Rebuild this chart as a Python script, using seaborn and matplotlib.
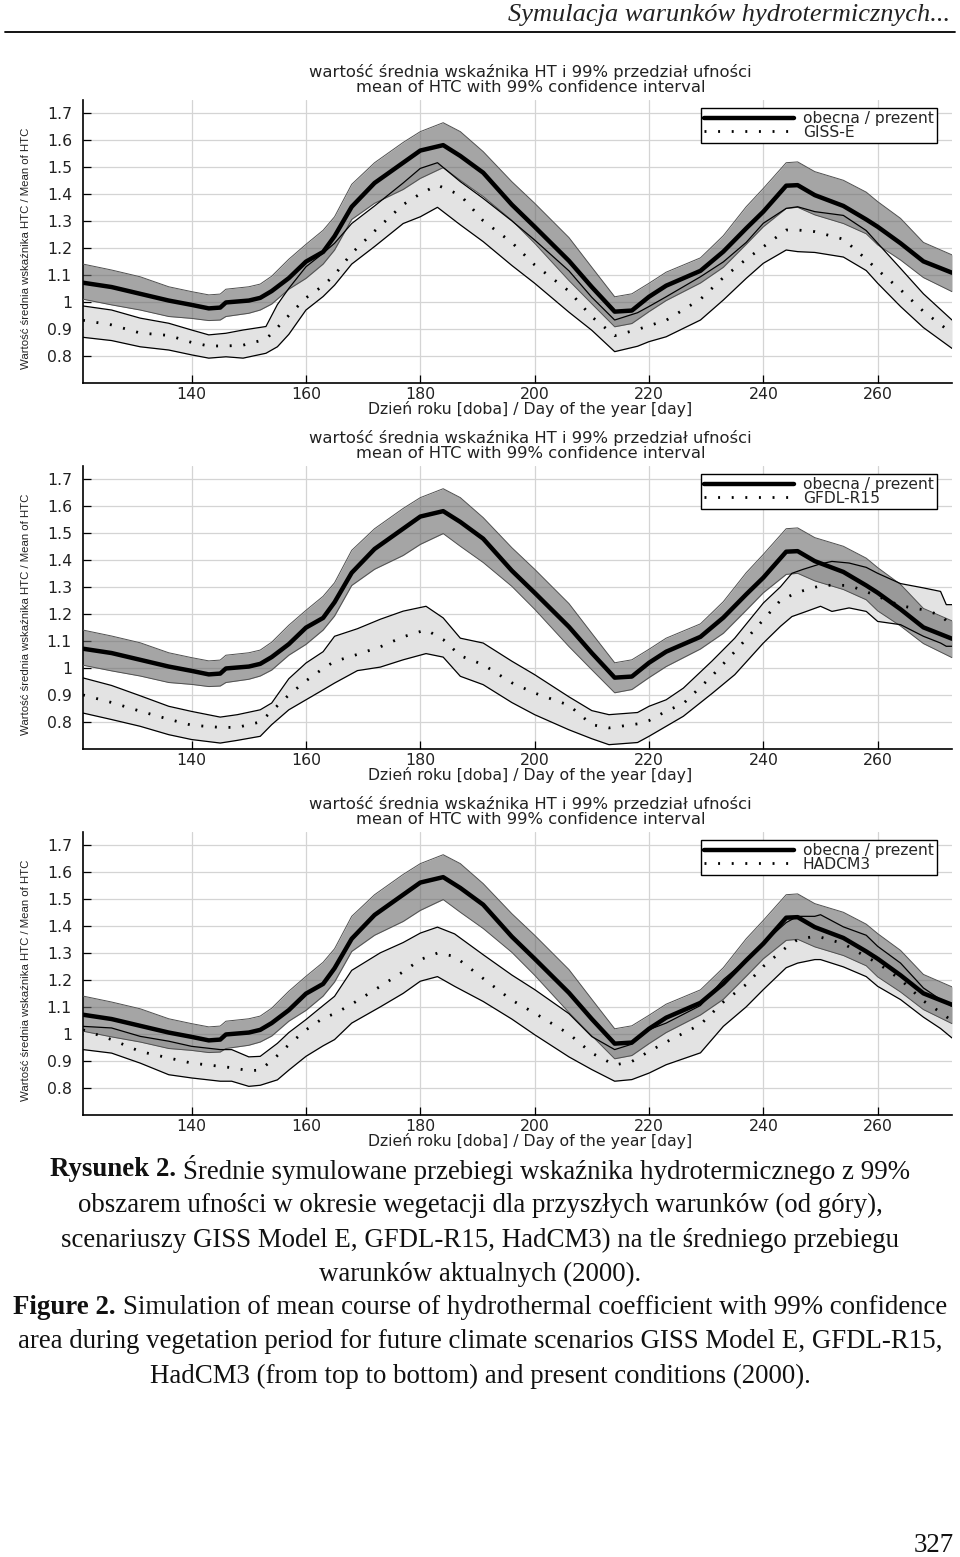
import pandas as pd
import matplotlib
matplotlib.use('Agg')
import matplotlib.pyplot as plt
import seaborn as sns
from matplotlib.lines import Line2D

sns.set_style('whitegrid')
plt.rcParams['font.family'] = ['DejaVu Sans']

# --- present conditions (2000), identical on all three panels ---
present_day = [121, 126, 131, 136, 140, 143, 145, 146, 150, 152, 154, 157, 160, 163, 165, 168, 172, 177, 180, 184,
               187, 191, 196, 200, 206, 210, 214, 217, 220, 223, 229, 233, 237, 240, 244, 246, 249, 254, 258, 260,
               264, 268, 273]
present_mean = [1.071, 1.055, 1.030, 1.005, 0.989, 0.976, 0.979, 0.998, 1.005, 1.015, 1.040, 1.088, 1.149, 1.185,
                1.243, 1.352, 1.440, 1.515, 1.560, 1.580, 1.540, 1.478, 1.360, 1.278, 1.152, 1.055, 0.964, 0.968,
                1.019, 1.060, 1.115, 1.186, 1.272, 1.334, 1.430, 1.432, 1.395, 1.355, 1.305, 1.278, 1.217, 1.150,
                1.108]
present_hi = [1.140, 1.118, 1.093, 1.056, 1.038, 1.026, 1.029, 1.047, 1.056, 1.066, 1.095, 1.158, 1.213, 1.265,
              1.315, 1.435, 1.515, 1.590, 1.630, 1.663, 1.630, 1.556, 1.445, 1.365, 1.238, 1.128, 1.019, 1.030,
              1.069, 1.110, 1.163, 1.245, 1.352, 1.420, 1.515, 1.518, 1.482, 1.450, 1.406, 1.371, 1.309, 1.220,
              1.174]
present_lo = [1.010, 0.989, 0.970, 0.946, 0.939, 0.931, 0.933, 0.946, 0.958, 0.970, 0.992, 1.047, 1.087, 1.140,
              1.192, 1.305, 1.365, 1.416, 1.457, 1.497, 1.450, 1.390, 1.302, 1.217, 1.079, 0.993, 0.908, 0.920,
              0.964, 1.005, 1.070, 1.128, 1.213, 1.278, 1.346, 1.350, 1.322, 1.290, 1.252, 1.211, 1.155, 1.090,
              1.038]

# --- GISS Model E ---
giss_day = [121, 126, 131, 136, 140, 143, 146, 149, 153, 155, 157, 160, 163, 165, 168, 172, 177, 180, 183, 187,
            191, 196, 200, 206, 210, 214, 218, 220, 223, 229, 233, 237, 240, 244, 246, 249, 254, 258, 260, 264,
            268, 273]
giss_mean = [0.932, 0.915, 0.885, 0.876, 0.850, 0.837, 0.837, 0.840, 0.862, 0.905, 0.950, 1.015, 1.060, 1.100,
             1.180, 1.262, 1.360, 1.400, 1.432, 1.395, 1.300, 1.220, 1.137, 1.040, 0.945, 0.875, 0.898, 0.912,
             0.932, 1.010, 1.090, 1.158, 1.204, 1.266, 1.266, 1.260, 1.232, 1.158, 1.118, 1.045, 0.965, 0.884]
giss_hi = [0.985, 0.970, 0.940, 0.921, 0.896, 0.878, 0.884, 0.896, 0.909, 0.990, 1.050, 1.130, 1.180, 1.217,
           1.290, 1.355, 1.440, 1.494, 1.515, 1.445, 1.383, 1.300, 1.229, 1.115, 1.017, 0.933, 0.960, 0.983,
           1.019, 1.093, 1.148, 1.220, 1.291, 1.346, 1.352, 1.334, 1.320, 1.264, 1.217, 1.124, 1.030, 0.933]
giss_lo = [0.869, 0.857, 0.834, 0.822, 0.804, 0.792, 0.797, 0.792, 0.810, 0.834, 0.880, 0.970, 1.020, 1.062,
           1.140, 1.205, 1.290, 1.315, 1.350, 1.285, 1.223, 1.135, 1.069, 0.962, 0.895, 0.816, 0.836, 0.853,
           0.871, 0.933, 1.007, 1.087, 1.143, 1.192, 1.186, 1.183, 1.166, 1.116, 1.069, 0.983, 0.905, 0.828]

# --- GFDL-R15 ---
gfdl_day = [121, 126, 131, 136, 140, 145, 148, 152, 154, 157, 160, 163, 165, 169, 173, 177, 181, 184, 187, 191,
            196, 200, 206, 210, 213, 218, 220, 223, 226, 231, 235, 240, 243, 245, 247, 250, 252, 255, 258, 260,
            264, 268, 271, 272, 273]
gfdl_mean = [0.900, 0.872, 0.840, 0.810, 0.788, 0.780, 0.780, 0.800, 0.840, 0.900, 0.952, 0.998, 1.024, 1.050,
             1.078, 1.115, 1.141, 1.105, 1.045, 1.012, 0.945, 0.907, 0.862, 0.790, 0.778, 0.793, 0.805, 0.840,
             0.868, 0.970, 1.060, 1.178, 1.250, 1.270, 1.286, 1.304, 1.306, 1.305, 1.282, 1.265, 1.230, 1.215,
             1.195, 1.175, 1.154]
gfdl_hi = [0.963, 0.935, 0.897, 0.858, 0.839, 0.818, 0.827, 0.845, 0.870, 0.960, 1.018, 1.060, 1.117, 1.145,
           1.180, 1.210, 1.228, 1.185, 1.110, 1.092, 1.025, 0.975, 0.893, 0.842, 0.827, 0.835, 0.858, 0.882,
           0.925, 1.025, 1.110, 1.240, 1.300, 1.350, 1.365, 1.385, 1.394, 1.388, 1.372, 1.350, 1.312, 1.296,
           1.283, 1.234, 1.234]
gfdl_lo = [0.833, 0.809, 0.784, 0.753, 0.735, 0.722, 0.732, 0.747, 0.790, 0.845, 0.882, 0.919, 0.944, 0.990,
           1.003, 1.030, 1.053, 1.040, 0.969, 0.938, 0.872, 0.827, 0.771, 0.738, 0.716, 0.724, 0.747, 0.784,
           0.821, 0.905, 0.975, 1.092, 1.154, 1.190, 1.205, 1.228, 1.209, 1.222, 1.209, 1.172, 1.160, 1.117,
           1.092, 1.080, 1.080]

# --- HadCM3 ---
had_day = [121, 126, 131, 136, 140, 145, 147, 150, 152, 155, 157, 160, 163, 165, 168, 173, 177, 180, 183, 186,
           191, 196, 200, 206, 210, 214, 217, 220, 223, 229, 233, 237, 240, 244, 246, 249, 250, 254, 258, 260,
           264, 268, 271, 273]
had_mean = [1.015, 0.979, 0.935, 0.911, 0.892, 0.880, 0.875, 0.864, 0.866, 0.920, 0.960, 1.015, 1.058, 1.075,
            1.110, 1.176, 1.230, 1.275, 1.299, 1.287, 1.205, 1.125, 1.077, 1.000, 0.929, 0.885, 0.898, 0.935,
            0.970, 1.035, 1.118, 1.183, 1.250, 1.320, 1.349, 1.361, 1.358, 1.334, 1.285, 1.262, 1.201, 1.122,
            1.080, 1.048]
had_hi = [1.028, 1.022, 0.991, 0.973, 0.954, 0.942, 0.942, 0.915, 0.917, 0.965, 1.005, 1.053, 1.105, 1.139,
          1.235, 1.300, 1.338, 1.373, 1.395, 1.370, 1.293, 1.218, 1.164, 1.075, 0.990, 0.942, 0.962, 1.016,
          1.040, 1.105, 1.201, 1.272, 1.336, 1.412, 1.435, 1.435, 1.441, 1.396, 1.365, 1.324, 1.262, 1.170,
          1.127, 1.102]
had_lo = [0.942, 0.929, 0.892, 0.849, 0.837, 0.825, 0.825, 0.806, 0.810, 0.830, 0.866, 0.917, 0.956, 0.979,
          1.040, 1.100, 1.150, 1.195, 1.212, 1.176, 1.120, 1.055, 0.997, 0.915, 0.868, 0.825, 0.831, 0.855,
          0.886, 0.930, 1.028, 1.100, 1.164, 1.245, 1.262, 1.275, 1.275, 1.248, 1.212, 1.176, 1.127, 1.062,
          1.020, 0.985]

scenarios = ['GISS-E', 'GFDL-R15', 'HADCM3']
scen_day = [giss_day, gfdl_day, had_day]
scen_mean = [giss_mean, gfdl_mean, had_mean]
scen_hi = [giss_hi, gfdl_hi, had_hi]
scen_lo = [giss_lo, gfdl_lo, had_lo]

x_ticks = [140, 160, 180, 200, 220, 240, 260]
y_ticks = [0.8, 0.9, 1.0, 1.1, 1.2, 1.3, 1.4, 1.5, 1.6, 1.7]

title_txt = 'wartość średnia wskaźnika HT i 99% przedział ufności\nmean of HTC with 99% confidence interval'
xlab = 'Dzień roku [doba] / Day of the year [day]'
ylab = 'Wartość średnia wskaźnika HTC / Mean of HTC'

W, H = 960, 1557
fig = plt.figure(figsize=(W / 100, H / 100), dpi=100)

present = pd.DataFrame({'day': present_day, 'mean': present_mean, 'hi': present_hi, 'lo': present_lo})
dots = (0, (0.7, 4.2))

panel_tops = [100, 466, 832]
for i, name in enumerate(scenarios):
    top = panel_tops[i]
    ax = fig.add_axes([83 / W, 1 - (top + 283) / H, 869 / W, 283 / H])
    scen = pd.DataFrame({'day': scen_day[i], 'mean': scen_mean[i], 'hi': scen_hi[i], 'lo': scen_lo[i]})

    ax.fill_between(scen['day'], scen['lo'], scen['hi'], color='#e3e3e3', lw=0, zorder=1)
    ax.fill_between(present['day'], present['lo'], present['hi'], color='#696969', alpha=0.6, lw=0, zorder=2)
    for col in ['lo', 'hi']:
        sns.lineplot(data=present, x='day', y=col, color='#505050', lw=0.7, ax=ax, zorder=3)
        sns.lineplot(data=scen, x='day', y=col, color='black', lw=0.9, ax=ax, zorder=3)
    sns.lineplot(data=scen, x='day', y='mean', color='black', lw=2.0, ls=dots, ax=ax, zorder=4)
    sns.lineplot(data=present, x='day', y='mean', color='black', lw=3.2, ax=ax, zorder=5)

    ax.set_xlim(121, 273)
    ax.set_ylim(0.70, 1.747)
    ax.set_xticks(x_ticks)
    ax.set_yticks(y_ticks)
    ax.set_yticklabels([f'{v:g}' for v in y_ticks])
    ax.set_axisbelow(True)
    ax.grid(True, color='#d4d4d4', lw=0.9)
    for s in ['top', 'right']:
        ax.spines[s].set_visible(False)
    for s in ['left', 'bottom']:
        ax.spines[s].set_color('black')
        ax.spines[s].set_linewidth(1.2)
    ax.tick_params(axis='both', direction='in', length=6, width=0.9, color='black',
                   labelsize=11.3, labelcolor='#222222', left=True, bottom=True)
    ax.tick_params(axis='y', pad=8)
    ax.tick_params(axis='x', pad=3)

    ax.set_title(title_txt, fontsize=11.8, color='#222222', pad=6, x=0.515, linespacing=0.95)
    ax.set_xlabel(xlab, fontsize=11.3, color='#222222', labelpad=-1, x=0.515)
    ax.set_ylabel(ylab, fontsize=8.2, color='#222222', family=['Liberation Sans', 'DejaVu Sans'])
    ax.yaxis.set_label_coords(-0.06, 0.475)

    handles = [Line2D([], [], color='black', lw=3.2),
               Line2D([], [], color='black', lw=2.0, ls=dots)]
    leg = ax.legend(handles, ['obecna / prezent', name], loc='upper right', bbox_to_anchor=(0.983, 0.972),
                    fontsize=11.2, frameon=True, fancybox=False, framealpha=1, edgecolor='black',
                    handlelength=5.8, borderpad=0.22, labelspacing=-0.1, handletextpad=0.55, borderaxespad=0)
    leg.get_frame().set_linewidth(1.0)

# page header
fig.text(950 / W, 1 - 15 / H, 'Symulacja warunków hydrotermicznych...', ha='right', va='center',
         fontsize=19, style='italic', family=['Liberation Serif'], color='#222222')
fig.add_artist(Line2D([5 / W, 955 / W], [1 - 32 / H, 1 - 32 / H], color='black', lw=1.3))

# caption
cap_font = dict(family=['Liberation Serif', 'DejaVu Serif'], fontsize=19.4, color='#111111')
renderer = fig.canvas.get_renderer()


def mixed_line(y, bold, rest):
    t1 = fig.text(0, 1 - y / H, bold, fontweight='bold', va='center', ha='left', **cap_font)
    t2 = fig.text(0, 1 - y / H, rest, va='center', ha='left', **cap_font)
    w1 = t1.get_window_extent(renderer).width
    w2 = t2.get_window_extent(renderer).width
    x0 = (W - (w1 + w2)) / 2
    t1.set_x(x0 / W)
    t2.set_x((x0 + w1) / W)


def plain_line(y, txt):
    fig.text(0.5, 1 - y / H, txt, va='center', ha='center', **cap_font)


mixed_line(1170, 'Rysunek 2. ', 'Średnie symulowane przebiegi wskaźnika hydrotermicznego z 99%')
plain_line(1205, 'obszarem ufności w okresie wegetacji dla przyszłych warunków (od góry),')
plain_line(1240, 'scenariuszy GISS Model E, GFDL-R15, HadCM3) na tle średniego przebiegu')
plain_line(1274, 'warunków aktualnych (2000).')
mixed_line(1308, 'Figure 2. ', 'Simulation of mean course of hydrothermal coefficient with 99% confidence')
plain_line(1342, 'area during vegetation period for future climate scenarios GISS Model E, GFDL-R15,')
plain_line(1376, 'HadCM3 (from top to bottom) and present conditions (2000).')

fig.text(954 / W, 1 - 1545 / H, '327', ha='right', va='center', **cap_font)

fig.savefig('out.png', dpi=100)
